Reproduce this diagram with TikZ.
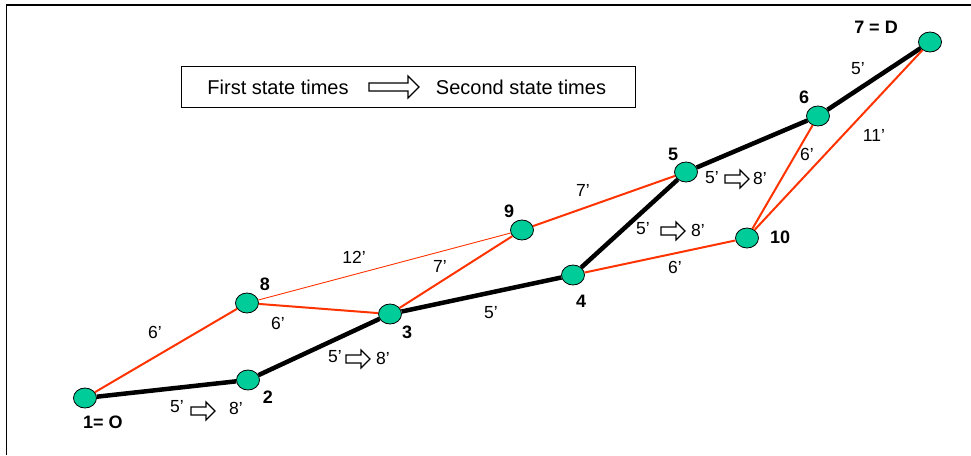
\documentclass[tikz,border=0pt]{standalone}
\usepackage{fontspec}
\setmainfont{Liberation Sans}
\usetikzlibrary{shapes.geometric}
\definecolor{stopgreen}{RGB}{0,204,153}
\definecolor{linkred}{RGB}{255,51,0}
\begin{document}
\begin{tikzpicture}[x=1pt, y=-1pt,
  stop/.style={draw, line width=0.8pt, fill=stopgreen, ellipse, minimum width=23pt, minimum height=20pt, inner sep=0pt},
  stoplabel/.style={font=\fontsize{18}{20}\selectfont\bfseries, inner sep=0pt},
  timelabel/.style={font=\fontsize{17.5}{20}\selectfont, inner sep=0pt},
  legendtext/.style={font=\fontsize{20}{22}\selectfont, inner sep=0pt},
  route/.style={line width=4.5pt},
  link/.style={draw=linkred, line width=2pt},
  thinlink/.style={draw=linkred, line width=0.9pt},
  pics/blockarrow/.style 2 args={code={\draw[fill=white, line width=1.1pt, line join=miter] (-#1,-4) -- (#1-#2,-4) -- (#1-#2,-#2) -- (#1,0) -- (#1-#2,#2) -- (#1-#2,4) -- (-#1,4) -- cycle;}}]
\useasboundingbox (0,0) rectangle (971,455);
\draw[line width=1.6pt] (6.5,455) -- (6.5,5) -- (971,5);

\node[draw, line width=1pt, minimum width=454pt, minimum height=41pt] (legend) at (408,86.5) {};
\node[legendtext] (first) at (278,87) {First state times};
\pic at (394,87) {blockarrow={25}{11}};
\node[legendtext] (second) at (521,87) {Second state times};

\node[stop] (s1) at (85,398) {};
\node[stop] (s2) at (248,380) {};
\node[stop] (s3) at (390,314) {};
\node[stop] (s4) at (573,275) {};
\node[stop] (s5) at (686,172) {};
\node[stop] (s6) at (818,116) {};
\node[stop] (s7) at (930,42) {};
\node[stop] (s8) at (247,303) {};
\node[stop] (s9) at (522,230) {};
\node[stop] (s10) at (747,238) {};

\draw[route] (s1) -- (s2);
\draw[route] (s2) -- (s3);
\draw[route] (s3) -- (s4);
\draw[route] (s4) -- (s5);
\draw[route] (s5) -- (s6);
\draw[route] (s6) -- (s7);

\draw[link] (s1) -- (s8);
\draw[link] (s8) -- (s3);
\draw[thinlink] (s8) -- (s9);
\draw[link] (s3) -- (s9);
\draw[link] (s9) -- (s5);
\draw[link] (s4) -- (s10);
\draw[link] (s10) -- (s6);
\draw[link] (s10) -- (s7);

\node[stoplabel] (l1) at (103,422) {1= O};
\node[stoplabel] (l2) at (268,397) {2};
\node[stoplabel] (l3) at (407,332) {3};
\node[stoplabel] (l4) at (581,301) {4};
\node[stoplabel] (l5) at (673,154) {5};
\node[stoplabel] (l6) at (804,97) {6};
\node[stoplabel] (l7) at (876,27) {7 = D};
\node[stoplabel] (l8) at (265,284) {8};
\node[stoplabel] (l9) at (509,211) {9};
\node[stoplabel] (l10) at (780,237) {10};

\node[timelabel] (t18) at (155,332) {6’};
\node[timelabel] (t83) at (278,323) {6’};
\node[timelabel] (t89) at (354,257) {12’};
\node[timelabel] (t39) at (440,266) {7’};
\node[timelabel] (t34) at (491,313) {5’};
\node[timelabel] (t95) at (583,190) {7’};
\node[timelabel] (t410) at (675,267) {6’};
\node[timelabel] (t106) at (807,154) {6’};
\node[timelabel] (t67) at (858,69) {5’};
\node[timelabel] (t107) at (874,135) {11’};

\node[timelabel] (t12a) at (177,407) {5’};
\pic at (203,411) {blockarrow={12}{9}};
\node[timelabel] (t12b) at (236,408) {8’};
\node[timelabel] (t23a) at (335,357) {5’};
\pic at (358,359) {blockarrow={12}{9}};
\node[timelabel] (t23b) at (383,358) {8’};
\node[timelabel] (t45a) at (643,229) {5’};
\pic at (673,231) {blockarrow={12}{9}};
\node[timelabel] (t45b) at (698,230) {8’};
\node[timelabel] (t56a) at (712,178) {5’};
\pic at (737,179) {blockarrow={12}{9}};
\node[timelabel] (t56b) at (760,178) {8’};
\end{tikzpicture}
\end{document}
